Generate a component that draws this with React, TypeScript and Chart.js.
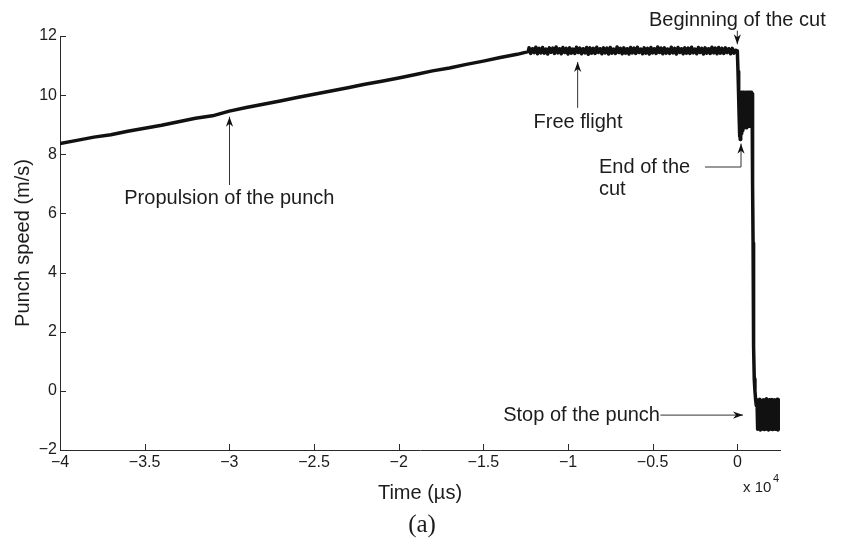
import React, { useEffect, useRef } from 'react';
import { Chart, registerables } from 'chart.js';

Chart.register(...registerables);

// ---------- data (time in µs, speed in m/s) ----------
const PROPULSION_TIME_US = [
  -40000, -39000, -38000, -37000, -36000, -35000, -34000, -33000, -32000, -31000,
  -30000, -29000, -28000, -27000, -26000, -25000, -24000, -23000, -22000, -21000,
  -20000, -19000, -18000, -17000, -16000, -15000, -14000, -13000, -12350,
];
const PROPULSION_SPEED = [
  8.36, 8.47, 8.58, 8.66, 8.78, 8.88, 8.98, 9.1, 9.22, 9.3,
  9.46, 9.58, 9.69, 9.8, 9.92, 10.03, 10.14, 10.25, 10.37, 10.47,
  10.58, 10.7, 10.82, 10.92, 11.04, 11.15, 11.27, 11.38, 11.47,
];

const FLIGHT_TIME_US = [
  -12300, -12200, -12100, -12000, -11900, -11800, -11700, -11600, -11500, -11400,
  -11300, -11200, -11100, -11000, -10900, -10800, -10700, -10600, -10500, -10400,
  -10300, -10200, -10100, -10000, -9900, -9800, -9700, -9600, -9500, -9400,
  -9300, -9200, -9100, -9000, -8900, -8800, -8700, -8600, -8500, -8400,
  -8300, -8200, -8100, -8000, -7900, -7800, -7700, -7600, -7500, -7400,
  -7300, -7200, -7100, -7000, -6900, -6800, -6700, -6600, -6500, -6400,
  -6300, -6200, -6100, -6000, -5900, -5800, -5700, -5600, -5500, -5400,
  -5300, -5200, -5100, -5000, -4900, -4800, -4700, -4600, -4500, -4400,
  -4300, -4200, -4100, -4000, -3900, -3800, -3700, -3600, -3500, -3400,
  -3300, -3200, -3100, -3000, -2900, -2800, -2700, -2600, -2500, -2400,
  -2300, -2200, -2100, -2000, -1900, -1800, -1700, -1600, -1500, -1400,
  -1300, -1200, -1100, -1000, -900, -800, -700, -600, -500, -400,
  -300, -200, -100,
];
const FLIGHT_SPEED = [
  11.6, 11.41, 11.57, 11.44, 11.62, 11.4, 11.58, 11.43, 11.61, 11.42,
  11.56, 11.39, 11.6, 11.45, 11.59, 11.41, 11.63, 11.43, 11.57, 11.4,
  11.61, 11.44, 11.58, 11.39, 11.6, 11.42, 11.56, 11.41, 11.62, 11.44,
  11.59, 11.4, 11.57, 11.43, 11.61, 11.38, 11.6, 11.42, 11.58, 11.41,
  11.62, 11.44, 11.57, 11.4, 11.6, 11.43, 11.59, 11.39, 11.61, 11.42,
  11.56, 11.41, 11.63, 11.44, 11.58, 11.4, 11.6, 11.42, 11.57, 11.39,
  11.61, 11.43, 11.59, 11.41, 11.62, 11.44, 11.56, 11.4, 11.6, 11.42,
  11.58, 11.39, 11.61, 11.43, 11.57, 11.41, 11.63, 11.44, 11.59, 11.4,
  11.6, 11.42, 11.56, 11.41, 11.62, 11.43, 11.58, 11.39, 11.61, 11.44,
  11.57, 11.4, 11.6, 11.42, 11.59, 11.41, 11.62, 11.43, 11.56, 11.4,
  11.61, 11.44, 11.58, 11.39, 11.6, 11.42, 11.57, 11.41, 11.62, 11.43,
  11.59, 11.4, 11.61, 11.42, 11.58, 11.41, 11.6, 11.44, 11.57, 11.4,
  11.58, 11.42, 11.52,
];

const CUT_TIME_US = [
  0, 40, 80, 110, 130, 150, 170, 190, 210, 230,
  250, 270, 290, 310, 330, 350, 370, 390, 410, 430,
  450, 470, 490, 510, 530, 550, 570, 590, 610, 630,
  650, 670, 690, 710, 730, 750, 770, 790, 810, 830,
  850, 870, 890, 910, 930, 950, 970, 1000, 1040, 1080,
  1120,
];
const CUT_SPEED = [
  11.5, 10.8, 9.9, 9.2, 8.6, 9.8, 8.5, 10.05, 8.55, 10.1,
  8.7, 10.1, 8.8, 10.05, 8.85, 10.1, 8.9, 10.05, 8.95, 10.1,
  8.9, 10.05, 8.95, 10.1, 8.9, 10.05, 9.0, 10.1, 8.95, 10.05,
  9.0, 10.1, 8.95, 10.05, 9.0, 10.1, 8.95, 10.05, 9.0, 10.1,
  9.0, 10.05, 9.2, 7.0, 5.0, 3.0, 1.5, 0.4, 0.0, -0.3,
  -0.5,
];

const STOP_TIME_US = [
  1160, 1200, 1240, 1280, 1320, 1360, 1400, 1440, 1480, 1520,
  1560, 1600, 1640, 1680, 1720, 1760, 1800, 1840, 1880, 1920,
  1960, 2000, 2040, 2080, 2120, 2160, 2200, 2240, 2280, 2320,
  2360, 2400, 2440, 2480, 2520,
];
const STOP_SPEED = [
  -0.3, -1.3, -0.35, -1.28, -0.28, -1.32, -0.4, -1.3, -0.32, -1.27,
  -0.3, -1.31, -0.38, -1.29, -0.27, -1.3, -0.33, -1.32, -0.3, -1.28,
  -0.36, -1.3, -0.29, -1.31, -0.34, -1.27, -0.3, -1.3, -0.38, -1.29,
  -0.28, -1.32, -0.31, -1.28, -0.33,
];

const X_TICKS = [-40000, -35000, -30000, -25000, -20000, -15000, -10000, -5000, 0];
const Y_TICKS = [-2, 0, 2, 4, 6, 8, 10, 12];
const X_MIN = -40000;
const X_MAX = 2520;
const Y_MIN = -2;
const Y_MAX = 12;

const X_TITLE = 'Time (µs)';
const Y_TITLE = 'Punch speed (m/s)';
const X_EXPONENT_BASE = 'x 10';
const X_EXPONENT = '4';
const CAPTION = '(a)';

// annotation texts anchored in data coordinates (µs, m/s)
const ANNOTATIONS = [
  { lines: ['Beginning of the cut'], x: 0, y: 12.54, align: 'center', arrow: [[0, 12.18], [0, 11.72]] },
  { lines: ['Free flight'], x: -9410, y: 9.09, align: 'center', arrow: [[-9430, 9.57], [-9430, 11.12]] },
  { lines: ['Propulsion of the punch'], x: -30000, y: 6.52, align: 'center', arrow: [[-29990, 6.96], [-29990, 9.27]] },
  { lines: ['End of the', 'cut'], x: -8170, y: 7.54, align: 'left', arrow: [[-1909, 7.57], [217, 7.57], [217, 8.36]] },
  { lines: ['Stop of the punch'], x: -4567, y: -0.82, align: 'right', arrow: [[-4540, -0.82], [335, -0.82]] },
];

const FONT = '"Liberation Sans", Arial, Helvetica, sans-serif';
const SERIF = '"Liberation Serif", "Times New Roman", serif';
const AXIS_COLOR = '#2a2a2a';
const TEXT_COLOR = '#1c1c1c';
const LINE_COLOR = '#111111';

function buildPoints() {
  const pts: { x: number; y: number }[] = [];
  const add = (t: number[], v: number[]) => t.forEach((x, i) => pts.push({ x, y: v[i] }));
  add(PROPULSION_TIME_US, PROPULSION_SPEED);
  add(FLIGHT_TIME_US, FLIGHT_SPEED);
  add(CUT_TIME_US, CUT_SPEED);
  add(STOP_TIME_US, STOP_SPEED);
  return pts;
}

function drawArrow(ctx: CanvasRenderingContext2D, pts: number[][]) {
  ctx.beginPath();
  ctx.moveTo(pts[0][0], pts[0][1]);
  for (let i = 1; i < pts.length; i++) ctx.lineTo(pts[i][0], pts[i][1]);
  ctx.stroke();
  const [x1, y1] = pts[pts.length - 2];
  const [x2, y2] = pts[pts.length - 1];
  const a = Math.atan2(y2 - y1, x2 - x1);
  const c = Math.cos(a), s = Math.sin(a);
  const L = 10, W = 3.6, N = 3;
  const bx = x2 - L * c, by = y2 - L * s;
  ctx.beginPath();
  ctx.moveTo(x2, y2);
  ctx.lineTo(bx - s * W, by + c * W);
  ctx.lineTo(x2 - (L - N) * c, y2 - (L - N) * s);
  ctx.lineTo(bx + s * W, by - c * W);
  ctx.closePath();
  ctx.fill();
}

const decorPlugin = {
  id: 'decor',
  afterDraw(chart: any) {
    const { ctx, chartArea, scales } = chart;
    const xs = scales.x;
    const ys = scales.y;
    ctx.save();
    // inward tick marks
    ctx.strokeStyle = AXIS_COLOR;
    ctx.lineWidth = 1;
    ctx.beginPath();
    X_TICKS.forEach((v) => {
      const px = Math.round(xs.getPixelForValue(v)) + 0.5;
      ctx.moveTo(px, chartArea.bottom);
      ctx.lineTo(px, chartArea.bottom - 6);
    });
    Y_TICKS.forEach((v) => {
      const py = Math.round(ys.getPixelForValue(v)) + 0.5;
      ctx.moveTo(chartArea.left, py);
      ctx.lineTo(chartArea.left + 6, py);
    });
    ctx.stroke();

    // annotations
    ctx.font = `20px ${FONT}`;
    ctx.textBaseline = 'middle';
    ctx.fillStyle = TEXT_COLOR;
    ANNOTATIONS.forEach((a) => {
      ctx.textAlign = a.align as CanvasTextAlign;
      const tx = xs.getPixelForValue(a.x);
      const ty = ys.getPixelForValue(a.y);
      a.lines.forEach((ln, i) => ctx.fillText(ln, tx, ty + i * 22));
    });
    ctx.strokeStyle = '#333333';
    ctx.fillStyle = '#111111';
    ctx.lineWidth = 1;
    ANNOTATIONS.forEach((a) => {
      const pts = a.arrow.map(([x, y]) => [xs.getPixelForValue(x), ys.getPixelForValue(y)]);
      drawArrow(ctx, pts);
    });

    // x 10^4 exponent label
    ctx.fillStyle = TEXT_COLOR;
    ctx.textAlign = 'left';
    ctx.font = `15px ${FONT}`;
    ctx.fillText(X_EXPONENT_BASE, chartArea.right - 37, chartArea.bottom + 38);
    ctx.font = `11px ${FONT}`;
    ctx.fillText(X_EXPONENT, chartArea.right - 7, chartArea.bottom + 29);

    // caption
    ctx.font = `25px ${SERIF}`;
    ctx.textAlign = 'center';
    ctx.fillText(CAPTION, (chartArea.left + chartArea.right) / 2 + 2, chartArea.bottom + 75);
    ctx.restore();
  },
};

const fmt = (v: number) => String(v).replace('-', '\u2212');

export default function App() {
  const ref = useRef<HTMLCanvasElement>(null);
  useEffect(() => {
    if (!ref.current) return;
    const chart = new Chart(ref.current, {
      type: 'line',
      data: {
        datasets: [
          {
            data: buildPoints(),
            borderColor: LINE_COLOR,
            borderWidth: 3.5,
            pointRadius: 0,
            tension: 0,
            fill: false,
            borderJoinStyle: 'round',
            borderCapStyle: 'round',
          },
        ],
      },
      options: {
        responsive: false,
        animation: false,
        layout: { padding: { left: 0, right: 62, top: 36, bottom: 0 } },
        plugins: { legend: { display: false }, tooltip: { enabled: false } },
        scales: {
          x: {
            type: 'linear',
            min: X_MIN,
            max: X_MAX,
            grid: { display: false, drawTicks: false },
            border: { display: true, color: AXIS_COLOR, width: 1 },
            afterBuildTicks: (s: any) => {
              s.ticks = X_TICKS.map((value) => ({ value }));
            },
            afterFit: (s: any) => {
              s.height = 89;
            },
            ticks: {
              autoSkip: false,
              maxRotation: 0,
              padding: 3,
              color: TEXT_COLOR,
              font: { family: FONT, size: 16 },
              callback: (v: any) => fmt(Number(v) / 10000),
            },
            title: {
              display: true,
              text: X_TITLE,
              color: TEXT_COLOR,
              font: { family: FONT, size: 20 },
              padding: { top: 0, bottom: 34 },
            },
          },
          y: {
            type: 'linear',
            min: Y_MIN,
            max: Y_MAX,
            grid: { display: false, drawTicks: false },
            border: { display: true, color: AXIS_COLOR, width: 1 },
            afterBuildTicks: (s: any) => {
              s.ticks = Y_TICKS.map((value) => ({ value }));
            },
            afterFit: (s: any) => {
              s.width = 60;
            },
            ticks: {
              autoSkip: false,
              padding: 3,
              color: TEXT_COLOR,
              font: { family: FONT, size: 16 },
              callback: (v: any) => fmt(Number(v)),
            },
            title: {
              display: true,
              text: Y_TITLE,
              color: TEXT_COLOR,
              font: { family: FONT, size: 20 },
              padding: { top: 11, bottom: 0 },
            },
          },
        },
      },
      plugins: [decorPlugin],
    } as any);
    return () => chart.destroy();
  }, []);

  return (
    <div style={{ position: 'fixed', left: 0, top: 0, width: 842, height: 539, background: '#fff' }}>
      <canvas ref={ref} width={842} height={539} style={{ display: 'block', width: 842, height: 539 }} />
    </div>
  );
}
